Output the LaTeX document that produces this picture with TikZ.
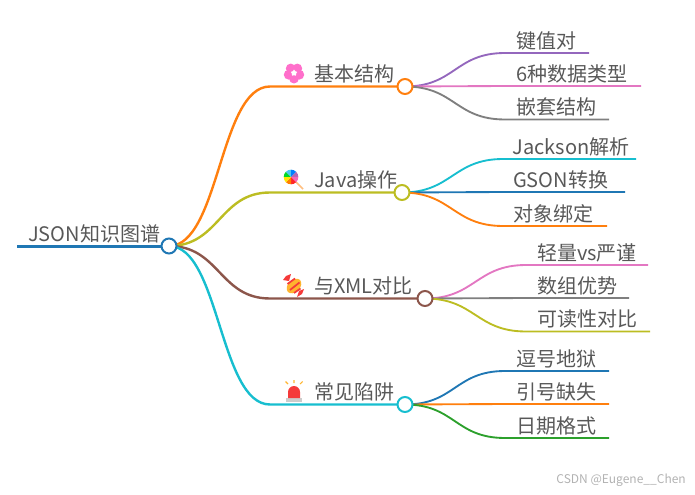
\documentclass[tikz,border=0pt]{standalone}
\usepackage{fontspec}
\usepackage{tikz}
\usetikzlibrary{positioning,shapes.geometric,backgrounds}
\setmainfont{Noto Sans CJK SC}
\definecolor{mapblue}{HTML}{1F77B4}
\definecolor{maporange}{HTML}{FF7F0E}
\definecolor{mapolive}{HTML}{BCBD22}
\definecolor{mapbrown}{HTML}{8C564B}
\definecolor{mapcyan}{HTML}{17BECF}
\definecolor{mappurple}{HTML}{9467BD}
\definecolor{mappink}{HTML}{E377C2}
\definecolor{mapgray}{HTML}{7F7F7F}
\definecolor{mapgreen}{HTML}{2CA02C}
\definecolor{maptext}{HTML}{585858}
\definecolor{iconpink}{HTML}{FF6FCB}
\definecolor{iconred}{HTML}{F53A3A}
\definecolor{iconamber}{HTML}{FFB52E}
\tikzset{
    hubdot/.style={circle, draw, fill=white, line width=1.5pt, minimum size=11.25pt, inner sep=0pt},
    rootlabel/.style={font=\fontsize{15}{15}\selectfont, text=maptext, inner sep=0pt, text height=11pt, text depth=0pt},
    topiclabel/.style={rootlabel},
    leaflabel/.style={rootlabel},
    rootline/.style={line width=2.25pt},
    topicline/.style={line width=1.8pt},
    leafline/.style={line width=1.4pt},
    wmarklabel/.style={font=\fontsize{9}{9}\selectfont, text=black!30, inner sep=0pt},
    flowericon/.pic={
        \foreach \a in {90,162,234,306,18}
            \fill[iconpink] (\a:5.6) circle[radius=4.9];
        \fill[iconpink] (0,0) circle[radius=5];
        \node[star, fill=white, inner sep=0pt, minimum size=5pt] (flowerstar) at (0,0) {};
    },
    lollyicon/.pic={
        \draw[orange!50, line width=1.1pt] (0,0) -- (12,12);
        \foreach \c [count=\i] in {red!80!pink,orange,yellow!90!orange,green!70!teal,cyan!70,blue!50!cyan,violet!60,magenta!60}
            \fill[\c] (0,0) -- (\i*45:7.3) arc[start angle=\i*45, end angle=\i*45+45, radius=7.3] -- cycle;
    },
    candyicon/.pic={
        \fill[iconred] (-5,-5) -- (-11,-6) -- (-8,-10) -- (-3,-12) -- cycle;
        \fill[iconred] (5,5) -- (10,3) -- (8,8) -- (3,11) -- cycle;
        \fill[iconamber, rotate=-45] (0,0) ellipse[x radius=6, y radius=8.5];
        \draw[iconred, line width=1.3pt] (-6.5,-2) -- (1,-7.5) (-4,4) -- (5.5,-3.5) (0,7) -- (6.5,2.5);
    },
    sirenicon/.pic={
        \fill[black!20] (-8,5) rectangle (8,9);
        \fill[iconred] (-6,5) -- (-6,-1) arc[start angle=180, end angle=360, radius=6] -- (6,5) -- cycle;
        \draw[iconamber, line width=.8pt] (0,-10) -- (0,-13) (-6,-9) -- (-8.5,-11.5) (6,-9) -- (8.5,-11.5);
    }
}
\begin{document}
\begin{tikzpicture}[x=0.75pt, y=-0.75pt]
        \useasboundingbox (0,0) rectangle (695,495);
        % root
        \node[hubdot, draw=mapblue] (root) at (169,246) {};
        \coordinate (rootstart) at (17,246);
        \node[rootlabel, above right=3pt and 8.2pt of rootstart] (rootname) {JSON知识图谱};
        % topics
        \node[hubdot, draw=maporange] (structhub) at (405,86.5) {};
        \node[hubdot, draw=mapolive] (javahub) at (402,192.5) {};
        \node[hubdot, draw=mapbrown] (xmlhub) at (425,298.5) {};
        \node[hubdot, draw=mapcyan] (trapshub) at (405,404.5) {};
        \coordinate (structbend) at (270,86.5);
        \coordinate (javabend) at (270,192.5);
        \coordinate (xmlbend) at (270,298.5);
        \coordinate (trapsbend) at (270,404.5);
        \node[topiclabel, above right=3.2pt and 33pt of structbend] (structname) {基本结构};
        \node[topiclabel, above right=3.2pt and 33pt of javabend] (javaname) {Java操作};
        \node[topiclabel, above right=3.2pt and 33pt of xmlbend] (xmlname) {与XML对比};
        \node[topiclabel, above right=3.2pt and 33pt of trapsbend] (trapsname) {常见陷阱};
        \pic at (294,73) {flowericon};
        \pic at (291,177) {lollyicon};
        \pic at (294,286) {candyicon};
        \pic at (294,393) {sirenicon};
        % leaves of the first topic
        \coordinate (keybend) at (505,53);
        \coordinate (typebend) at (505,86);
        \coordinate (nestbend) at (505,119.5);
        \coordinate (keyend) at (589,53);
        \coordinate (typeend) at (641,86);
        \coordinate (nestend) at (609,119.5);
        \node[leaflabel, above right=3.5pt and 8.2pt of keybend] (keyname) {键值对};
        \node[leaflabel, above right=3.5pt and 8.2pt of typebend] (typename) {6种数据类型};
        \node[leaflabel, above right=3.5pt and 8.2pt of nestbend] (nestname) {嵌套结构};
        % leaves of the second topic
        \coordinate (jacksonbend) at (503,159);
        \coordinate (gsonbend) at (503,192);
        \coordinate (bindbend) at (503,226);
        \coordinate (jacksonend) at (636,159);
        \coordinate (gsonend) at (625,192);
        \coordinate (bindend) at (607,226);
        \node[leaflabel, above right=3.5pt and 7pt of jacksonbend] (jacksonname) {Jackson解析};
        \node[leaflabel, above right=3.5pt and 7.4pt of gsonbend] (gsonname) {GSON转换};
        \node[leaflabel, above right=3.5pt and 7.4pt of bindbend] (bindname) {对象绑定};
        % leaves of the third topic
        \coordinate (lightbend) at (526,265);
        \coordinate (arraybend) at (526,298);
        \coordinate (readbend) at (526,331.5);
        \coordinate (lightend) at (648,265);
        \coordinate (arrayend) at (629,298);
        \coordinate (readend) at (650,331.5);
        \node[leaflabel, above right=3.5pt and 8.2pt of lightbend] (lightname) {轻量vs严谨};
        \node[leaflabel, above right=3.5pt and 8.2pt of arraybend] (arrayname) {数组优势};
        \node[leaflabel, above right=3.5pt and 8.2pt of readbend] (readname) {可读性对比};
        % leaves of the fourth topic
        \coordinate (commabend) at (505,371);
        \coordinate (quotebend) at (505,404);
        \coordinate (datebend) at (505,438);
        \coordinate (commaend) at (609,371);
        \coordinate (quoteend) at (609,404);
        \coordinate (dateend) at (609,438);
        \node[leaflabel, above right=3.5pt and 8.2pt of commabend] (commaname) {逗号地狱};
        \node[leaflabel, above right=3.5pt and 8.2pt of quotebend] (quotename) {引号缺失};
        \node[leaflabel, above right=3.5pt and 8.2pt of datebend] (datename) {日期格式};
        \node[wmarklabel, anchor=east] (wmark) at (686,480) {CSDN @Eugene\_\_Chen};
        % connectors, under the dots
        \begin{scope}[on background layer]
        \draw[rootline, mapblue] (rootstart) -- (root.center);
        \draw[topicline, maporange] (root.center) .. controls +(50.5,0) and +(-50.5,0) .. (structbend) -- (structhub.center);
        \draw[topicline, mapolive] (root.center) .. controls +(50.5,0) and +(-50.5,0) .. (javabend) -- (javahub.center);
        \draw[topicline, mapbrown] (root.center) .. controls +(50.5,0) and +(-50.5,0) .. (xmlbend) -- (xmlhub.center);
        \draw[topicline, mapcyan] (root.center) .. controls +(50.5,0) and +(-50.5,0) .. (trapsbend) -- (trapshub.center);
        \draw[leafline, mappurple] (structhub.center) .. controls +(50,0) and +(-50,0) .. (keybend) -- (keyend);
        \draw[leafline, mappink] (structhub.center) .. controls +(50,0) and +(-50,0) .. (typebend) -- (typeend);
        \draw[leafline, mapgray] (structhub.center) .. controls +(50,0) and +(-50,0) .. (nestbend) -- (nestend);
        \draw[leafline, mapcyan] (javahub.center) .. controls +(50,0) and +(-50,0) .. (jacksonbend) -- (jacksonend);
        \draw[leafline, mapblue] (javahub.center) .. controls +(50,0) and +(-50,0) .. (gsonbend) -- (gsonend);
        \draw[leafline, maporange] (javahub.center) .. controls +(50,0) and +(-50,0) .. (bindbend) -- (bindend);
        \draw[leafline, mappink] (xmlhub.center) .. controls +(50,0) and +(-50,0) .. (lightbend) -- (lightend);
        \draw[leafline, mapgray] (xmlhub.center) .. controls +(50,0) and +(-50,0) .. (arraybend) -- (arrayend);
        \draw[leafline, mapolive] (xmlhub.center) .. controls +(50,0) and +(-50,0) .. (readbend) -- (readend);
        \draw[leafline, mapblue] (trapshub.center) .. controls +(50,0) and +(-50,0) .. (commabend) -- (commaend);
        \draw[leafline, maporange] (trapshub.center) .. controls +(50,0) and +(-50,0) .. (quotebend) -- (quoteend);
        \draw[leafline, mapgreen] (trapshub.center) .. controls +(50,0) and +(-50,0) .. (datebend) -- (dateend);
        \end{scope}
    \end{tikzpicture}
\end{document}
